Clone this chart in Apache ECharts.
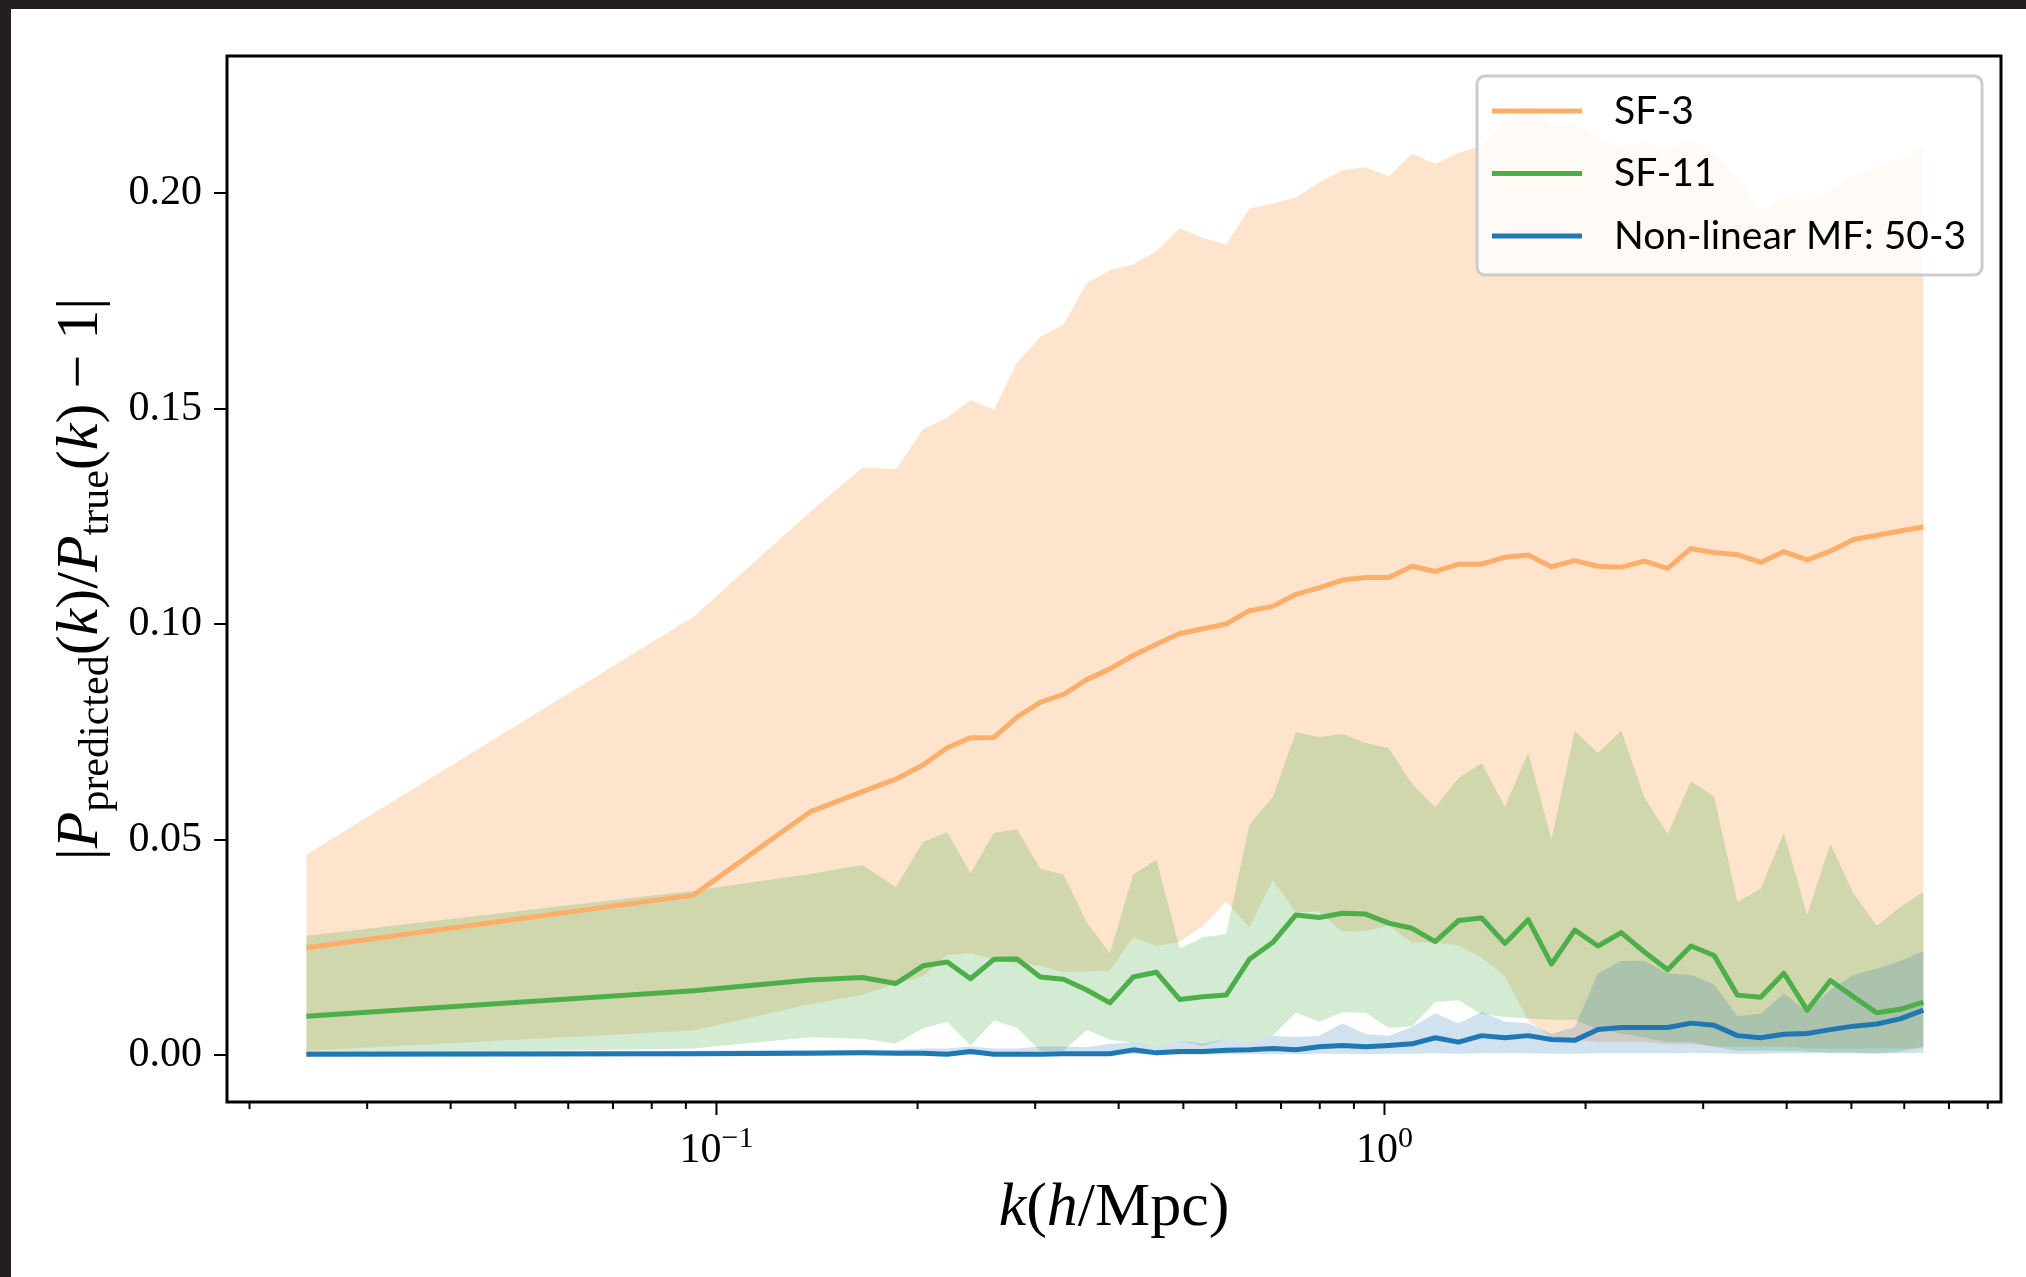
<!DOCTYPE html>
<html><head><meta charset="utf-8">
<script src="https://cdn.jsdelivr.net/npm/echarts@6/dist/echarts.min.js"></script>
<style>
html,body{margin:0;padding:0;background:#fff;}
#c{position:absolute;left:0;top:0;width:2026px;height:1277px;}
#topbar{position:absolute;left:0;top:0;width:2026px;height:9px;background:#231f20;}
#leftbar{position:absolute;left:0;top:0;width:11px;height:1277px;background:#231f20;}
</style></head><body>
<div id="c"></div><div id="topbar"></div><div id="leftbar"></div>
<script>
// ---- data ----
const k = [0.02433, 0.09237, 0.1380, 0.1654, 0.1856, 0.2038,
  0.2216, 0.2401, 0.2602, 0.2818, 0.3053, 0.3308, 0.3584, 0.3882, 0.4206, 0.4557,
  0.4937, 0.5349, 0.5794, 0.6278, 0.6802, 0.7368, 0.7983, 0.8649, 0.9369, 1.0151,
  1.0997, 1.1914, 1.2907, 1.3981, 1.5148, 1.6411, 1.7783, 1.9267, 2.0873, 2.2614,
  2.4500, 2.6544, 2.8756, 3.1153, 3.3754, 3.6568, 3.9619, 4.2924, 4.6504, 5.0385,
  5.4575, 5.9129, 6.4077];

const sf3Mean = [0.0249, 0.0371, 0.0564, 0.0611, 0.0640, 0.0673,
  0.0713, 0.0736, 0.0737, 0.0784, 0.0818, 0.0837, 0.0871, 0.0896, 0.0927, 0.0953,
  0.0978, 0.0989, 0.1000, 0.1031, 0.1041, 0.1069, 0.1084, 0.1102, 0.1108, 0.1108,
  0.1134, 0.1122, 0.1139, 0.1139, 0.1155, 0.1160, 0.1133, 0.1147, 0.1134, 0.1132,
  0.1146, 0.1129, 0.1175, 0.1166, 0.1161, 0.1143, 0.1168, 0.1149, 0.1169, 0.1196,
  0.1206, 0.1216, 0.1225];
const sf3Upper = [0.0465, 0.1017, 0.1260, 0.1363, 0.1359, 0.1452,
  0.1479, 0.1519, 0.1498, 0.1606, 0.1666, 0.1695, 0.1791, 0.1821, 0.1835, 0.1865,
  0.1919, 0.1896, 0.1881, 0.1964, 0.1976, 0.1989, 0.2025, 0.2053, 0.2060, 0.2039,
  0.2091, 0.2068, 0.2093, 0.2110, 0.2165, 0.2211, 0.2153, 0.2161, 0.2130, 0.2107,
  0.2118, 0.2099, 0.2124, 0.2092, 0.2037, 0.1956, 0.1991, 0.1979, 0.2006, 0.2041,
  0.2060, 0.2076, 0.2108];
const sf3Lower = [0.0010, 0.0057, 0.0118, 0.0140, 0.0165, 0.0183,
  0.0232, 0.0236, 0.0222, 0.0212, 0.0207, 0.0192, 0.0194, 0.0196, 0.0273, 0.0253,
  0.0263, 0.0300, 0.0355, 0.0296, 0.0406, 0.0331, 0.0333, 0.0286, 0.0288, 0.0300,
  0.0261, 0.0261, 0.0254, 0.0226, 0.0182, 0.0080, 0.0040, 0.0035, 0.0030, 0.0030,
  0.0030, 0.0025, 0.0025, 0.0020, 0.0020, 0.0020, 0.0020, 0.0015, 0.0015, 0.0015,
  0.0015, 0.0015, 0.0015];

const sf11Mean = [0.0090, 0.0149, 0.0174, 0.0180, 0.0166, 0.0207,
  0.0216, 0.0177, 0.0222, 0.0223, 0.0181, 0.0176, 0.0151, 0.0121, 0.0181, 0.0192,
  0.0129, 0.0135, 0.0139, 0.0222, 0.0261, 0.0325, 0.0319, 0.0329, 0.0327, 0.0306,
  0.0294, 0.0263, 0.0312, 0.0318, 0.0259, 0.0314, 0.0211, 0.0290, 0.0253, 0.0284,
  0.0239, 0.0198, 0.0253, 0.0231, 0.0139, 0.0134, 0.0190, 0.0104, 0.0173, 0.0135,
  0.0098, 0.0106, 0.0123];
const sf11Upper = [0.0277, 0.0381, 0.0420, 0.0441, 0.0390, 0.0494,
  0.0517, 0.0422, 0.0516, 0.0524, 0.0432, 0.0418, 0.0308, 0.0236, 0.0419, 0.0453,
  0.0247, 0.0273, 0.0281, 0.0535, 0.0598, 0.0749, 0.0738, 0.0745, 0.0724, 0.0712,
  0.0629, 0.0575, 0.0643, 0.0677, 0.0576, 0.0702, 0.0500, 0.0753, 0.0700, 0.0753,
  0.0598, 0.0512, 0.0635, 0.0600, 0.0355, 0.0386, 0.0516, 0.0325, 0.0490, 0.0374,
  0.0300, 0.0343, 0.0378];
const sf11Lower = [0.0002, 0.0015, 0.0041, 0.0038, 0.0027, 0.0062,
  0.0077, 0.0022, 0.0080, 0.0063, 0.0010, 0.0010, 0.0058, 0.0036, 0.0028, 0.0018,
  0.0033, 0.0021, 0.0037, 0.0029, 0.0045, 0.0098, 0.0077, 0.0099, 0.0098, 0.0063,
  0.0066, 0.0123, 0.0127, 0.0095, 0.0088, 0.0085, 0.0082, 0.0082, 0.0060, 0.0050,
  0.0040, 0.0030, 0.0030, 0.0020, 0.0010, 0.0010, 0.0010, 0.0008, 0.0005, 0.0005,
  0.0003, 0.0008, 0.0020];

const mfMean = [0.0002, 0.0003, 0.0004, 0.0005, 0.0004, 0.0004,
  0.0002, 0.0008, 0.0002, 0.0002, 0.0002, 0.0003, 0.0003, 0.0003, 0.0012, 0.0005,
  0.0008, 0.0008, 0.0011, 0.0012, 0.0015, 0.0012, 0.0019, 0.0022, 0.0019, 0.0022,
  0.0026, 0.0040, 0.0030, 0.0045, 0.0040, 0.0045, 0.0036, 0.0034, 0.0059, 0.0064,
  0.0064, 0.0064, 0.0074, 0.0069, 0.0045, 0.0040, 0.0048, 0.0050, 0.0059, 0.0067,
  0.0072, 0.0084, 0.0104];
const mfUpper = [0.0008, 0.0010, 0.0012, 0.0012, 0.0012, 0.0015,
  0.0015, 0.0020, 0.0015, 0.0015, 0.0020, 0.0020, 0.0018, 0.0026, 0.0029, 0.0018,
  0.0033, 0.0026, 0.0037, 0.0029, 0.0045, 0.0042, 0.0045, 0.0073, 0.0049, 0.0045,
  0.0065, 0.0097, 0.0073, 0.0100, 0.0077, 0.0074, 0.0049, 0.0065, 0.0190, 0.0218,
  0.0219, 0.0189, 0.0186, 0.0164, 0.0090, 0.0096, 0.0143, 0.0102, 0.0151, 0.0186,
  0.0200, 0.0218, 0.0241];
const mfLower = [0.0000, 0.0000, 0.0000, 0.0000, 0.0000, 0.0000,
  0.0000, 0.0001, 0.0000, 0.0000, 0.0000, 0.0001, 0.0001, 0.0001, 0.0002, 0.0001,
  0.0001, 0.0001, 0.0002, 0.0002, 0.0002, 0.0002, 0.0003, 0.0003, 0.0002, 0.0003,
  0.0003, 0.0004, 0.0003, 0.0004, 0.0004, 0.0004, 0.0003, 0.0003, 0.0004, 0.0004,
  0.0004, 0.0004, 0.0005, 0.0004, 0.0003, 0.0003, 0.0004, 0.0004, 0.0004, 0.0004,
  0.0004, 0.0004, 0.0005];

const seriesNames = ['SF-3', 'SF-11', 'Non-linear MF: 50-3'];
const yTicks = [0, 0.05, 0.10, 0.15, 0.20];
const yTickLabels = ['0.00', '0.05', '0.10', '0.15', '0.20'];
const xMajorTicks = [0.1, 1];
const xMajorBase = ['10', '10'];
const xMajorExp = ['\u22121', '0'];
const xMinorTicks = [0.02, 0.03, 0.04, 0.05, 0.06, 0.07, 0.08, 0.09,
  0.2, 0.3, 0.4, 0.5, 0.6, 0.7, 0.8, 0.9, 2, 3, 4, 5, 6, 7, 8];

// ---- chart ----
const SERIF = '"Liberation Serif", "DejaVu Serif", serif';
const SANS = 'Lato, "Open Sans", sans-serif';
const COLORS = {sf3: '#fdae6b', sf11: '#4daf4a', mf: '#1f77b4'};
const FILLS = {sf3: 'rgba(253,170,100,0.32)', sf11: 'rgba(77,175,74,0.25)', mf: 'rgba(31,119,180,0.21)'};

const chart = echarts.init(document.getElementById('c'), null, {renderer: 'canvas'});

function bandSeries(name, lo, hi, fill) {
  return {
    type: 'custom', name: name, coordinateSystem: 'cartesian2d', silent: true,
    data: k.map((x, i) => [x, lo[i], hi[i]]),
    encode: {x: 0, y: [1, 2]},
    renderItem: function (params, api) {
      if (params.dataIndex !== 0) return null;
      const pts = [];
      for (let i = 0; i < k.length; i++) pts.push(api.coord([k[i], hi[i]]));
      for (let i = k.length - 1; i >= 0; i--) pts.push(api.coord([k[i], lo[i]]));
      return {type: 'polygon', shape: {points: pts}, style: {fill: fill}};
    }
  };
}
function lineSeries(name, vals, color) {
  return {
    type: 'line', name: name, data: k.map((x, i) => [x, vals[i]]),
    showSymbol: false, symbol: 'none', silent: true,
    lineStyle: {color: color, width: 5, join: 'round'}, itemStyle: {color: color}
  };
}
function xTickSeries(vals, len, withLabels) {
  return {
    type: 'custom', coordinateSystem: 'cartesian2d', silent: true, clip: false, z: 10,
    data: vals.map(v => [v, 0]),
    renderItem: function (params, api) {
      const cs = params.coordSys;
      const x = api.coord([api.value(0), 0])[0];
      const yb = cs.y + cs.height;
      const children = [{type: 'line', shape: {x1: x, y1: yb, x2: x, y2: yb + len},
        style: {stroke: '#000', lineWidth: 2}}];
      if (withLabels) {
        const i = params.dataIndex;
        children.push({type: 'text', x: x, y: yb + 22, style: {
          text: '{b|' + xMajorBase[i] + '}{s|' + xMajorExp[i] + '}',
          align: 'center', verticalAlign: 'top',
          rich: {
            b: {fontFamily: SERIF, fontSize: 42, lineHeight: 48, verticalAlign: 'bottom', fill: '#000'},
            s: {fontFamily: SERIF, fontSize: 30, lineHeight: 30, verticalAlign: 'top', fill: '#000'}
          }
        }});
      }
      return {type: 'group', children: children};
    }
  };
}

const nameRich = {
  n: {fontFamily: SERIF, fontSize: 60, lineHeight: 66, verticalAlign: 'top', color: '#000'},
  i: {fontFamily: SERIF, fontSize: 60, lineHeight: 66, verticalAlign: 'top', fontStyle: 'italic', color: '#000'},
  s: {fontFamily: SERIF, fontSize: 42, lineHeight: 42, verticalAlign: 'bottom', padding: [30, 0, 0, 0], color: '#000'}
};
const xNameRich = {
  n: {fontFamily: SERIF, fontSize: 62, lineHeight: 70, color: '#000'},
  i: {fontFamily: SERIF, fontSize: 62, lineHeight: 70, fontStyle: 'italic', color: '#000'}
};

chart.setOption({
  animation: false,
  backgroundColor: '#ffffff',
  grid: {left: 227, top: 56, width: 1774, height: 1046, show: true, borderColor: '#000', borderWidth: 3, backgroundColor: 'transparent'},
  xAxis: {
    type: 'log', logBase: 10, min: 0.018505, max: 8.374,
    axisLine: {show: false}, axisTick: {show: false}, axisLabel: {show: false},
    splitLine: {show: false}, minorTick: {show: false}, minorSplitLine: {show: false},
    name: '{i|k}{n|(}{i|h}{n|/Mpc)}', nameLocation: 'middle', nameGap: 72,
    nameTextStyle: {rich: xNameRich}
  },
  yAxis: {
    type: 'value', min: -0.0109, max: 0.2318,
    axisLine: {show: false}, splitLine: {show: false},
    axisTick: {show: true, length: 13, lineStyle: {color: '#000', width: 2}, customValues: yTicks},
    axisLabel: {show: true, customValues: yTicks, margin: 25, fontFamily: SERIF, fontSize: 42, color: '#000',
      formatter: function (v) { const i = yTicks.findIndex(t => Math.abs(t - v) < 1e-9); return i >= 0 ? yTickLabels[i] : ''; }},
    name: '{n||}{i|P}{s|predicted}{n|(}{i|k}{n|)/}{i|P}{s|true}{n|(}{i|k}{n|) \u2212 1|}',
    nameLocation: 'middle', nameRotate: 90, nameGap: 103,
    nameTextStyle: {rich: nameRich}
  },
  legend: {
    data: seriesNames, orient: 'vertical', left: 1477, top: 76,
    icon: 'rect', itemWidth: 90, itemHeight: 5, itemGap: 16.5,
    padding: [12, 16, 16, 15],
    backgroundColor: 'rgba(255,255,255,0.8)', borderColor: '#cccccc', borderWidth: 3, borderRadius: 8,
    selectedMode: false,
    textStyle: {fontFamily: SANS, fontSize: 39, color: '#000', lineHeight: 46, padding: [0, 0, 0, 27]}
  },
  series: [
    bandSeries('SF-3 band', sf3Lower, sf3Upper, FILLS.sf3),
    lineSeries(seriesNames[0], sf3Mean, COLORS.sf3),
    bandSeries('SF-11 band', sf11Lower, sf11Upper, FILLS.sf11),
    lineSeries(seriesNames[1], sf11Mean, COLORS.sf11),
    bandSeries('MF band', mfLower, mfUpper, FILLS.mf),
    lineSeries(seriesNames[2], mfMean, COLORS.mf),
    xTickSeries(xMinorTicks, 7, false),
    xTickSeries(xMajorTicks, 13, true)
  ]
});
</script>
</body></html>
